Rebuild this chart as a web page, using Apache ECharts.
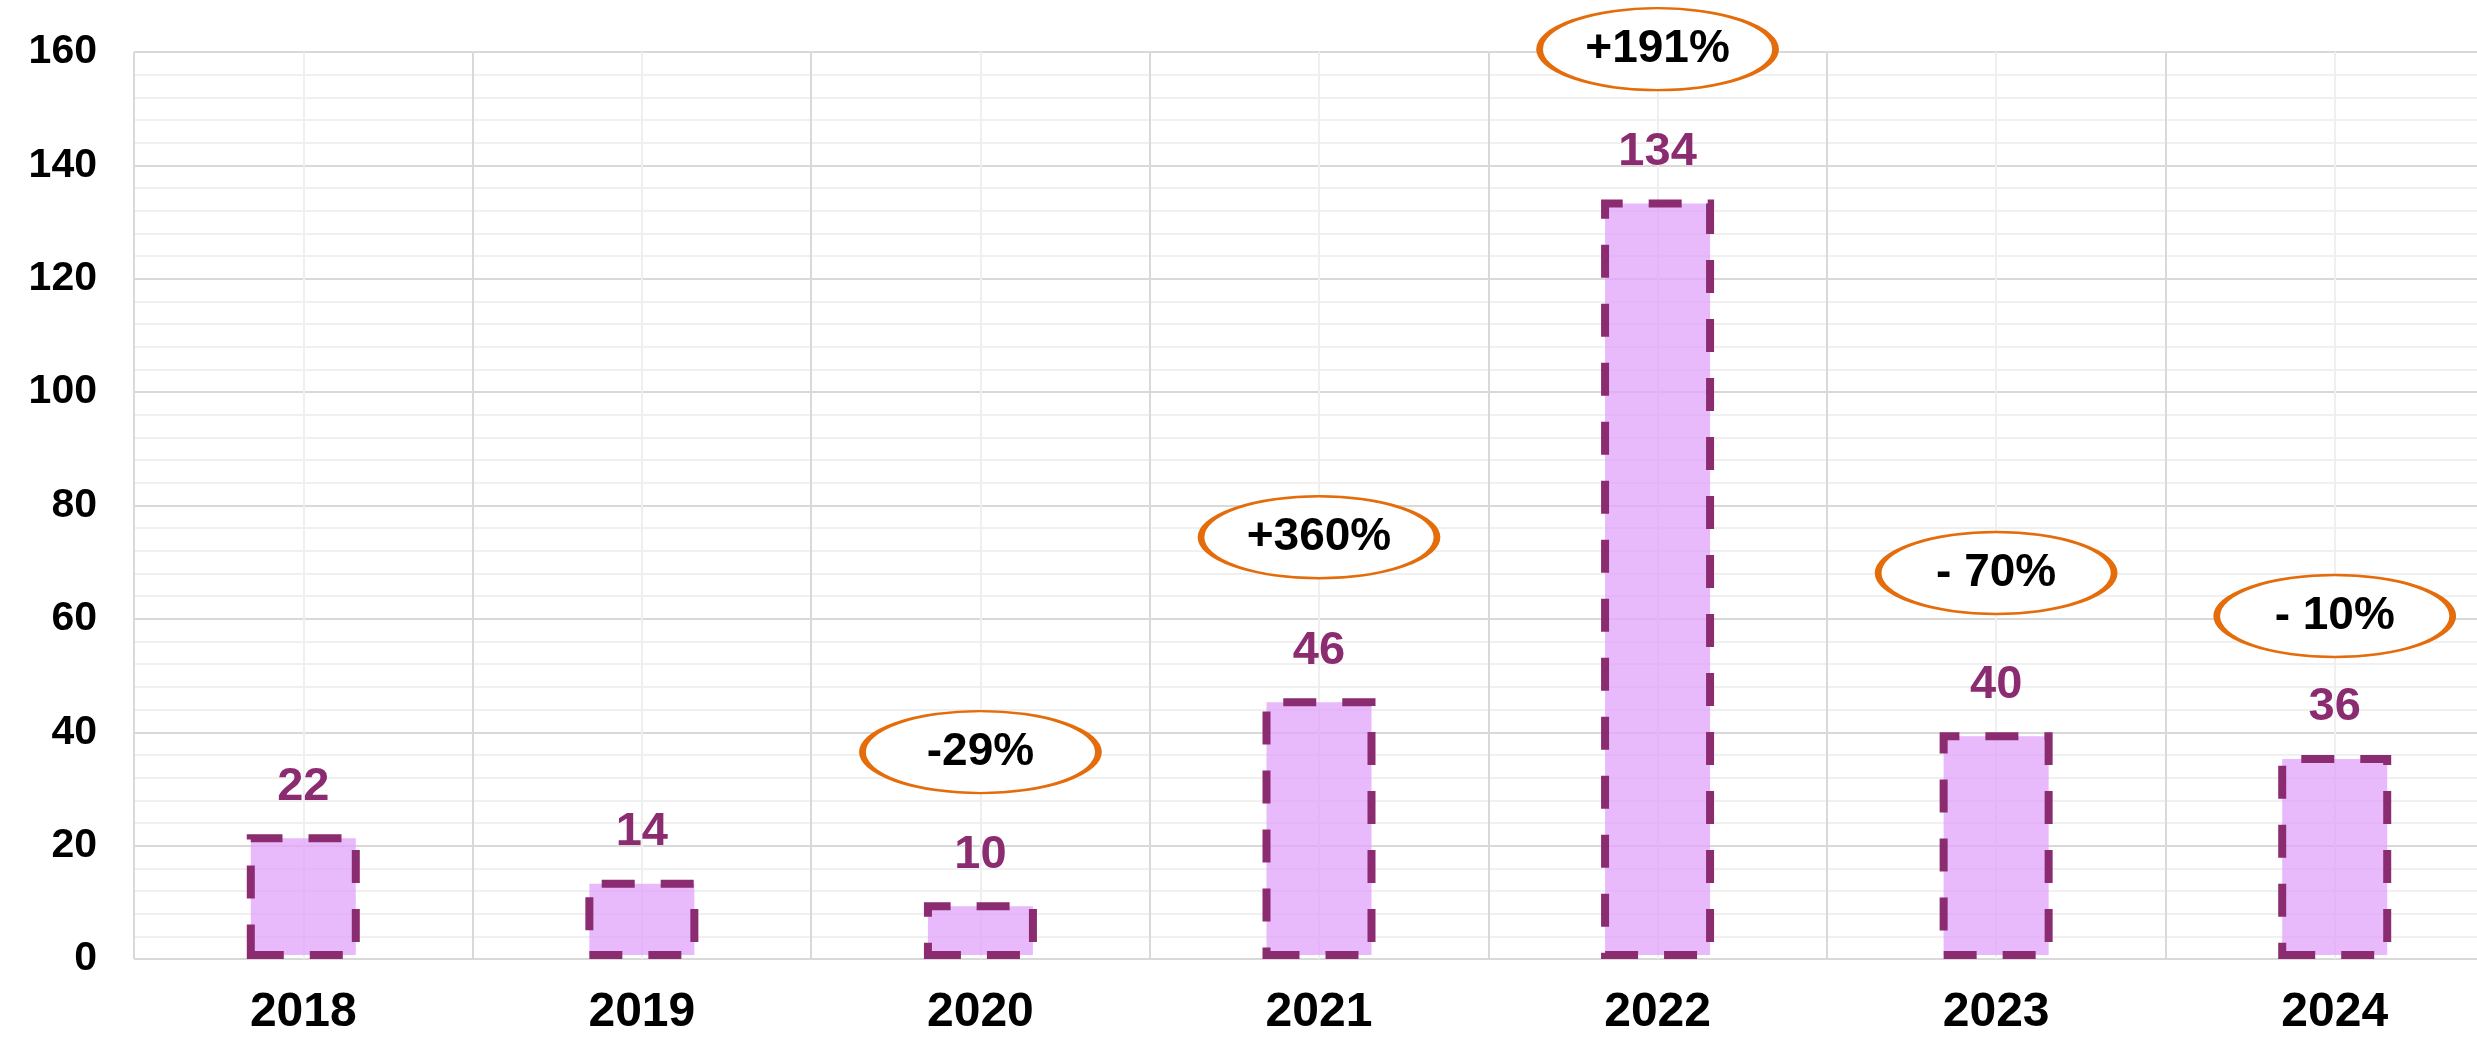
<!DOCTYPE html>
<html>
<head>
<meta charset="utf-8">
<script src="https://cdn.jsdelivr.net/npm/echarts@6/dist/echarts.min.js"></script>
<style>
  html, body { margin: 0; padding: 0; background: #fff; }
  #chart { width: 2477px; height: 1038px; }
</style>
</head>
<body>
<div id="chart"></div>
<script>
// data
const years = ['2018', '2019', '2020', '2021', '2022', '2023', '2024'];
const counts = [22, 14, 10, 46, 134, 40, 36];
const yTicks = [0, 20, 40, 60, 80, 100, 120, 140, 160];

// the orange call-outs: which year, the height they sit at, and the text
const noteYears = ['2020', '2021', '2022', '2023', '2024'];
const noteLevels = [36.5, 74.4, 160.5, 68.1, 60.5];
const noteTexts = ['-29%', '+360%', '+191%', '- 70%', '- 10%'];

const FONT = '"Liberation Sans", Arial, sans-serif';
const PURPLE = '#8B2B70';
const ORANGE = '#E46C0A';

const chart = echarts.init(document.getElementById('chart'));

const notes = noteYears.map((y, i) => ({
  name: noteTexts[i],
  value: [y, noteLevels[i]],
}));

const options = {
  animation: false,
  textStyle: { fontFamily: FONT },
  // the plot runs a little past the right edge of the picture
  grid: {
    left: 134,
    width: 2370,
    top: 52,
    bottom: 79,
    outerBoundsMode: 'none',
    containLabel: false,
  },
  xAxis: [
    {
      type: 'category',
      data: years,
      axisLine: { show: false },
      axisTick: { show: false },
      splitLine: { show: false },
      axisLabel: {
        color: '#000',
        fontSize: 48,
        fontWeight: 'bold',
        fontFamily: FONT,
        margin: 30,
      },
    },
    {
      // only here to draw the vertical grid (boundaries + centre lines)
      type: 'value',
      min: 0,
      max: years.length,
      interval: 1,
      position: 'bottom',
      axisLine: { show: false },
      axisTick: { show: false },
      axisLabel: { show: false },
      splitLine: { show: true, lineStyle: { color: '#d9d9d9', width: 2 } },
      minorTick: { show: false, splitNumber: 2 },
      minorSplitLine: { show: true, lineStyle: { color: '#efefef', width: 2 } },
    },
  ],
  yAxis: {
    type: 'value',
    min: yTicks[0],
    max: yTicks[yTicks.length - 1],
    interval: yTicks[1] - yTicks[0],
    axisLine: { show: false },
    axisTick: { show: false },
    axisLabel: {
      color: '#000',
      fontSize: 41,
      fontWeight: 'bold',
      fontFamily: FONT,
      margin: 37,
    },
    splitLine: { show: true, lineStyle: { color: '#d9d9d9', width: 2 } },
    minorTick: { show: false, splitNumber: 5 },
    minorSplitLine: { show: true, lineStyle: { color: '#f0f0f0', width: 2 } },
  },
  series: [
    {
      type: 'bar',
      xAxisIndex: 0,
      data: counts,
      barWidth: 113,
      itemStyle: {
        color: 'rgba(224,162,249,0.75)',
        borderColor: PURPLE,
        borderWidth: 8,
        borderType: [33, 26],
      },
      label: {
        show: true,
        position: 'top',
        distance: 24,
        color: PURPLE,
        fontSize: 47,
        fontWeight: 'bold',
        fontFamily: FONT,
      },
    },
    {
      type: 'scatter',
      xAxisIndex: 0,
      data: notes,
      clip: false,
      z: 5,
      symbol: 'circle',
      symbolSize: [236, 82],
      itemStyle: {
        color: '#fff',
        borderColor: ORANGE,
        borderWidth: 4,
        opacity: 1,
      },
      label: {
        show: true,
        position: 'inside',
        formatter: '{b}',
        color: '#000',
        fontSize: 46,
        fontWeight: 'bold',
        fontFamily: FONT,
      },
      emphasis: { disabled: true },
    },
  ],
};

options && chart.setOption(options);
</script>
</body>
</html>
